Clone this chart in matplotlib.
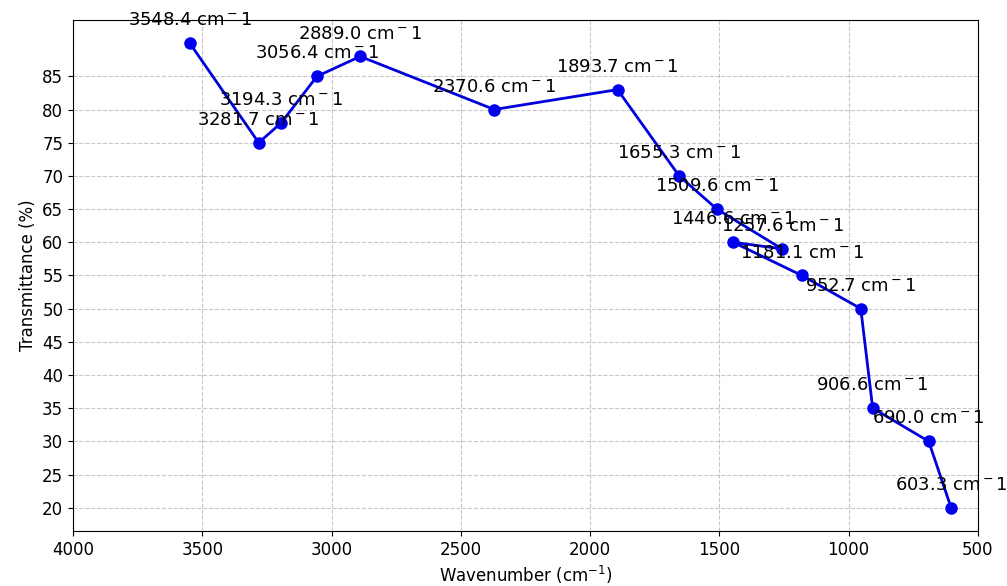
import matplotlib
matplotlib.use("Agg")
import matplotlib.pyplot as plt
import numpy as np

# IR absorption peaks: wavenumber (cm^-1) and transmittance (%)
wavenumbers = [3548.4, 3281.7, 3194.3, 3056.4, 2889.0, 2370.6, 1893.7, 1655.3,
               1509.6, 1257.6, 1446.6, 1181.1, 952.7, 906.6, 690.0, 603.3]
transmittance = [90, 75, 78, 85, 88, 80, 83, 70,
                 65, 59, 60, 55, 50, 35, 30, 20]
y_ticks = list(range(20, 90, 5))
x_ticks = [4000, 3500, 3000, 2500, 2000, 1500, 1000, 500]

fig, ax = plt.subplots(figsize=(10.07, 5.86), dpi=100)
fig.subplots_adjust(left=0.0725, right=0.971, bottom=0.094, top=0.966)

ax.plot(wavenumbers, transmittance, color="#0000dd", marker="o",
        markersize=8, linewidth=2, markerfacecolor="#0000ee",
        markeredgecolor="#0000ee")

for x, y in zip(wavenumbers, transmittance):
    ax.annotate(f"{x:.1f} cm$^-1$", (x, y), xytext=(0, 10),
                textcoords="offset points", ha="center", va="bottom",
                fontsize=13)

ax.set_xlim(4000, 500)
ax.set_xticks(x_ticks)
ax.set_yticks(y_ticks)
ax.tick_params(labelsize=12)
ax.set_xlabel("Wavenumber (cm$^{-1}$)", fontsize=12)
ax.set_ylabel("Transmittance (%)", fontsize=12)
ax.grid(True, linestyle="--", color="#b0b0b0", linewidth=0.8, alpha=0.7)

fig.savefig("out.png", dpi=100)
